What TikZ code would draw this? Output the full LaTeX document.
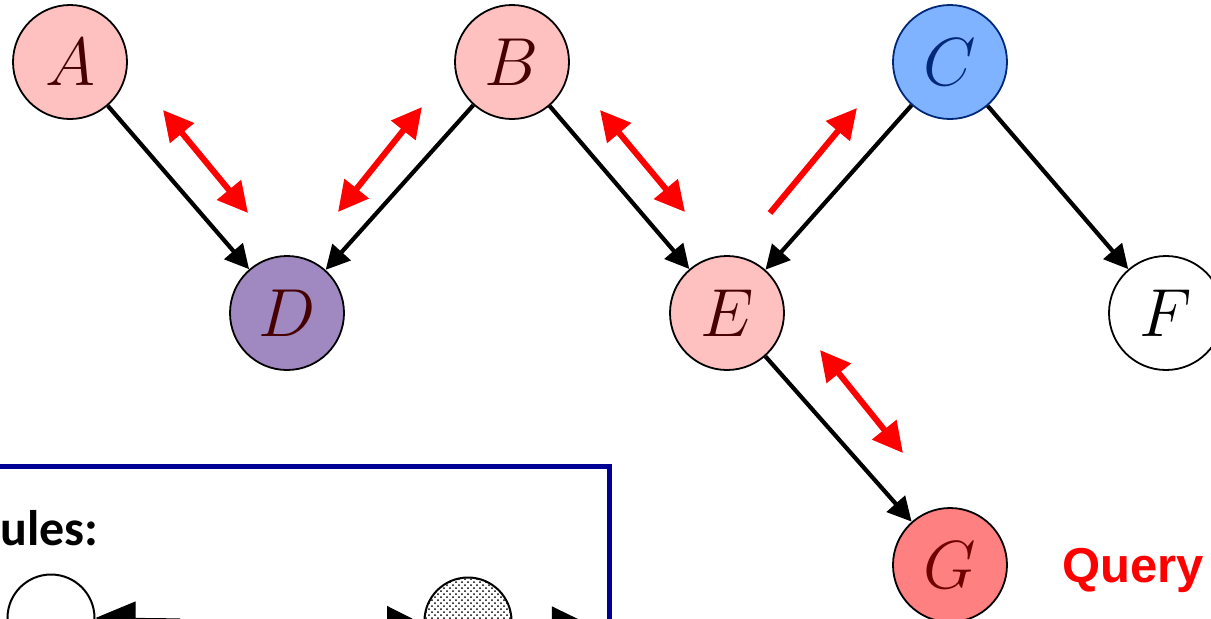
\RequirePackage{fix-cm}
\documentclass[tikz,border=0pt]{standalone}
\usepackage{fontspec}
\usetikzlibrary{arrows.meta,patterns}
\newfontfamily\queryfont{Liberation Sans}
\newfontfamily\rulefont{Carlito}

\definecolor{lightpink}{RGB}{255,192,192}
\definecolor{darkpink}{RGB}{255,128,128}
\definecolor{lilac}{RGB}{160,136,192}
\definecolor{skyblue}{RGB}{128,179,255}
\definecolor{navyline}{RGB}{0,40,120}
\definecolor{boxblue}{RGB}{0,0,150}
\definecolor{maroon}{RGB}{70,0,0}

\tikzset{
  var/.style={circle, draw, line width=0.9pt, minimum size=57pt, inner sep=0pt,
    font=\fontsize{34}{40}\selectfont},
  link/.style={line width=2.1pt, -{Triangle[length=12pt,width=12pt]}},
  flow/.style={red, line width=3pt,
    {Triangle[length=15pt,width=15pt]}-{Triangle[length=15pt,width=15pt]}},
  oneflow/.style={red, line width=3pt, -{Triangle[length=15pt,width=15pt]}},
  icon/.style={circle, draw, line width=1pt, minimum size=43.5pt, inner sep=0pt}
}

\begin{document}
\begin{tikzpicture}[x=0.5pt,y=-0.5pt]
    \useasboundingbox (0,0) rectangle (1211,618);
    \clip (0,0) rectangle (1211,618);

    % Variables
    \node[var, fill=lightpink, text=maroon] (A) at (70,62) {$A$};
    \node[var, fill=lightpink, text=maroon] (B) at (512,62) {$B$};
    \node[var, fill=skyblue, draw=navyline, text=navyline] (C) at (950,62) {$C$};
    \node[var, fill=lilac, text=maroon] (D) at (287,313) {$D$};
    \node[var, fill=lightpink, text=maroon] (E) at (727,313) {$E$};
    \node[var] (F) at (1166,313) {$F$};
    \node[var, fill=darkpink, text={rgb,255:red,110;green,0;blue,0}] (G) at (950,565) {$G$};

    % Edges of the network
    \draw[link] (A) -- (D);
    \draw[link] (B) -- (D);
    \draw[link] (B) -- (E);
    \draw[link] (C) -- (E);
    \draw[link] (C) -- (F);
    \draw[link] (E) -- (G);

    % Active trail
    \coordinate (ad1) at (163,110);
    \coordinate (ad2) at (248,213);
    \coordinate (bd1) at (338,212);
    \coordinate (bd2) at (422,107);
    \coordinate (be1) at (600,110);
    \coordinate (be2) at (685,212);
    \coordinate (ce1) at (770,213);
    \coordinate (ce2) at (857,108);
    \coordinate (eg1) at (820,350);
    \coordinate (eg2) at (903,453);
    \draw[flow] (ad1) -- (ad2);
    \draw[flow] (bd1) -- (bd2);
    \draw[flow] (be1) -- (be2);
    \draw[oneflow] (ce1) -- (ce2);
    \draw[flow] (eg1) -- (eg2);

    \node[anchor=base west, text=red, font=\queryfont\bfseries\fontsize{24.5}{30}\selectfont,
        inner sep=0pt] (query) at (1062,582) {Query};

    % Rules box
    \draw[boxblue, line width=2.5pt] (-20,466) rectangle (609,700);
    \node[anchor=base east, font=\rulefont\bfseries\fontsize{25}{30}\selectfont, inner sep=0pt]
        (rules) at (99,545) {Rules:};

    \node[icon] (r1) at (51,618) {};
    \coordinate (r1a) at (180,619);
    \draw[line width=0.6pt, -{Triangle[length=20pt,width=17pt]}] (r1a) -- (r1.east);

    \node[icon, pattern=crosshatch dots] (r2) at (468,621) {};
    \coordinate (r2a) at (340,620);
    \coordinate (r2b) at (415,620);
    \coordinate (r2c) at (r2.east);
    \coordinate (r2d) at (580,620);
    \draw[line width=0.6pt, -{Triangle[length=14pt,width=14pt]}] (r2a) -- (r2b);
    \draw[line width=0.6pt, -{Triangle[length=14pt,width=14pt]}] (r2c) -- (r2d);
\end{tikzpicture}
\end{document}
